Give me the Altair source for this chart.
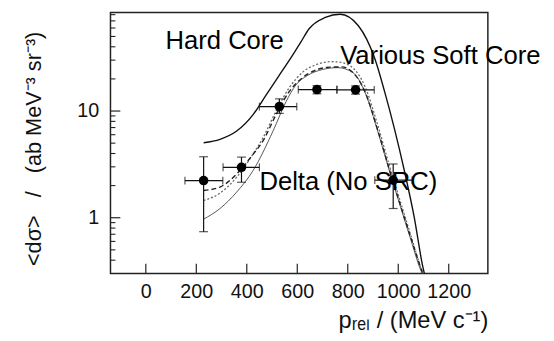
import altair as alt
import pandas as pd

# ---- measured data points (p_rel in MeV/c, cross section) ----
p_rel = [229, 379, 529, 678, 831, 980]
p_lo = [155, 306, 450, 604, 757, 907]
p_hi = [305, 450, 598, 757, 905, 1055]
sigma = [2.23, 2.97, 11.0, 15.9, 15.8, 2.25]
sigma_lo = [0.74, 2.15, 9.5, 14.5, 14.4, 1.22]
sigma_hi = [3.73, 3.70, 13.0, 17.3, 17.2, 3.19]

# ---- model curves ----
hard_x = [229, 294, 360, 425, 477, 529, 581, 614, 646, 711, 770, 842, 907, 946, 1024, 1063, 1097, 1105]
hard_y = [5.05, 5.43, 6.49, 9.26, 14.2, 21.7, 33.3, 44.2, 58.7, 75.3, 80.8, 63, 31, 15.2, 2.77, 1.02, 0.35, 0.29]

soft1_x = [229, 294, 360, 420, 464, 516, 568, 620, 680, 730, 776, 820, 868, 920, 966, 1011, 1050, 1095, 1102]
soft1_y = [1.8, 1.94, 2.57, 3.8, 5.24, 9.26, 15.2, 20.5, 24.5, 25.8, 25.9, 23, 15.2, 6.5, 2.77, 1.26, 0.65, 0.31, 0.28]

soft2_x = [229, 294, 360, 420, 464, 516, 568, 620, 680, 730, 763, 810, 868, 920, 966, 1011, 1050, 1095, 1102]
soft2_y = [1.45, 1.7, 2.4, 3.8, 5.6, 10, 16.5, 23, 27.5, 29, 28.8, 26.5, 17, 7.2, 3.0, 1.35, 0.68, 0.31, 0.28]

delta_x = [229, 294, 360, 425, 504, 556, 594, 640, 700, 760, 820, 868, 920, 966, 1011, 1050, 1095, 1102]
delta_y = [0.97, 1.22, 1.74, 2.77, 6.5, 12.3, 17.5, 21.5, 24.5, 25.5, 23, 15, 6.3, 2.7, 1.22, 0.62, 0.30, 0.28]

# ---- annotations ----
labels = ["Hard Core", "Various Soft Core", "Delta (No SRC)"]
label_x = [78, 770, 450]
label_y = [38.3, 27.7, 1.83]

# ---- tick values ----
x_ticks = [0, 200, 400, 600, 800, 1000, 1200]
y_major = [1, 10]
y_minor = [0.4, 0.5, 0.6, 0.7, 0.8, 0.9, 2, 3, 4, 5, 6, 7, 8, 9, 20, 30, 40, 50, 60, 70, 80]

W, H = 383, 265
xs = alt.Scale(domain=[-140, 1355], nice=False, zero=False)
ys = alt.Scale(type="log", domain=[0.3, 84], nice=False)

NB = "\u00a0"
y_title = "<dσ>" + NB * 3 + "/" + NB * 3 + "(ab MeV⁻³ sr⁻³)"

xaxis = alt.Axis(values=x_ticks, format="d", title="pᵣₑₗ / (MeV c⁻¹)", labelPadding=8,
                 titleX=383, titleY=55, titleAlign="right", titleBaseline="alphabetic",
                 titleFontSize=24, labelFontSize=20)
yaxis = alt.Axis(values=y_major, format="d", title=y_title, labelPadding=12,
                 titleX=-71, titleY=138, titleAngle=270, titleAlign="center",
                 titleBaseline="alphabetic", titleFontSize=22, labelFontSize=20)


def X(f):
    return alt.X(f, type="quantitative", scale=xs, axis=xaxis)


def Y(f):
    return alt.Y(f, type="quantitative", scale=ys, axis=yaxis)


pts = pd.DataFrame({"p": p_rel, "plo": p_lo, "phi": p_hi, "s": sigma, "slo": sigma_lo, "shi": sigma_hi})

xt = alt.Chart(pd.DataFrame({"t": x_ticks})).mark_rule(color="#222", strokeWidth=1.2).encode(
    x=X("t"), y=alt.value(H), y2=alt.value(H - 10))
ymaj = alt.Chart(pd.DataFrame({"t": y_major})).mark_rule(color="#222", strokeWidth=1.2).encode(
    y=Y("t"), x=alt.value(0), x2=alt.value(10))
ymin = alt.Chart(pd.DataFrame({"t": y_minor})).mark_rule(color="#222", strokeWidth=1.1).encode(
    y=Y("t"), x=alt.value(0), x2=alt.value(5))


def curve(xv, yv, **style):
    df = pd.DataFrame({"x": xv, "y": yv})
    return alt.Chart(df).mark_line(clip=True, interpolate="monotone", **style).encode(x=X("x"), y=Y("y"))


hard = curve(hard_x, hard_y, color="#111", strokeWidth=1.4)
soft1 = curve(soft1_x, soft1_y, color="#222", strokeWidth=1.4, strokeDash=[5, 3])
soft2 = curve(soft2_x, soft2_y, color="#666", strokeWidth=1.3, strokeDash=[2, 2])
delta = curve(delta_x, delta_y, color="#444", strokeWidth=0.9)

base = alt.Chart(pts)
xerr = base.mark_rule(color="#111", strokeWidth=1.2).encode(x=X("plo"), x2="phi", y=Y("s"))
yerr = base.mark_rule(color="#111", strokeWidth=1.2).encode(x=X("p"), y=Y("slo"), y2="shi")
xcap1 = base.mark_tick(orient="vertical", size=8, thickness=1.2, color="#111").encode(x=X("plo"), y=Y("s"))
xcap2 = base.mark_tick(orient="vertical", size=8, thickness=1.2, color="#111").encode(x=X("phi"), y=Y("s"))
ycap1 = base.mark_tick(orient="horizontal", size=9, thickness=1.2, color="#111").encode(x=X("p"), y=Y("slo"))
ycap2 = base.mark_tick(orient="horizontal", size=9, thickness=1.2, color="#111").encode(x=X("p"), y=Y("shi"))
dots = base.mark_circle(size=95, color="black", opacity=1).encode(x=X("p"), y=Y("s"))

ann = alt.Chart(pd.DataFrame({"t": labels, "x": label_x, "y": label_y})).mark_text(
    align="left", baseline="alphabetic", font="Liberation Sans", fontSize=26, color="black"
).encode(x=X("x"), y=Y("y"), text="t:N")

chart = alt.layer(
    xt, ymaj, ymin, delta, soft2, soft1, hard, xerr, yerr, xcap1, xcap2, ycap1, ycap2, dots, ann
).properties(
    width=W, height=H,
    padding={"left": 104, "top": 2, "right": 59, "bottom": 66},
    autosize=alt.AutoSizeParams(type="none"),
    background="white",
).configure_view(
    stroke="#222", strokeWidth=1.5
).configure_axis(
    grid=False, domain=False, ticks=False, tickSize=0,
    labelFont="Liberation Sans", labelColor="#111",
    titleFont="Liberation Sans", titleFontWeight="normal", titleColor="#111",
)

chart.save("out.html", embed_options={"renderer": "svg", "actions": False})
